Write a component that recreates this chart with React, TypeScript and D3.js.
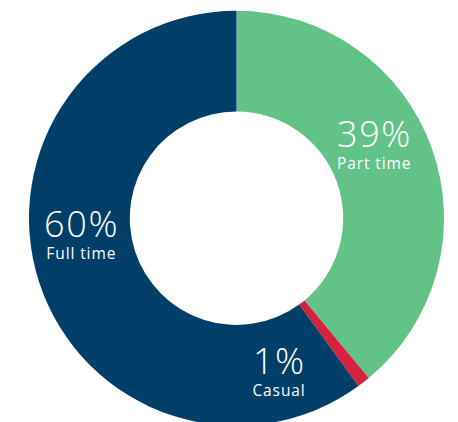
import React from "react";
import * as d3 from "d3";

const categories = ["Part time", "Casual", "Full time"];
const values = [39, 1, 60];
const colors = ["#63c288", "#d6223d", "#013e68"];
// label anchor (polar, degrees clockwise from top, radius in px)
const labelAngles = [65.3, 165.6, 260.2];
const labelRadii = [151, 169, 158];

const W = 458;
const H = 422;
const cx = 236.5;
const cy = 218.2;
const outerR = 207.5;
const innerR = 106.7;

export default function App() {
  const pie = d3.pie<number>().sort(null).value((d) => d)(values);
  const arc = d3.arc<d3.PieArcDatum<number>>().innerRadius(innerR).outerRadius(outerR);
  return (
    <svg
      width={W}
      height={H}
      style={{ position: "absolute", left: 0, top: 0, display: "block" }}
      fontFamily="'Open Sans', sans-serif"
    >
      <rect width={W} height={H} fill="#ffffff" />
      <g transform={`translate(${cx},${cy})`}>
        {pie.map((p, i) => (
          <path key={i} d={arc(p) || ""} fill={colors[i]} />
        ))}
        {pie.map((p, i) => {
          const a = (labelAngles[i] * Math.PI) / 180;
          const x = labelRadii[i] * Math.sin(a);
          const y = -labelRadii[i] * Math.cos(a);
          return (
            <g key={"l" + i} transform={`translate(${x},${y})`} fill="#ffffff" textAnchor="middle">
              <text x={0.8} y={-8} fontSize={36} fontWeight={300} letterSpacing={1.6}>
                {values[i]}%
              </text>
              <text x={0.5} y={14} fontSize={15.5} fontWeight={400} letterSpacing={0.9}>
                {categories[i]}
              </text>
            </g>
          );
        })}
      </g>
    </svg>
  );
}
